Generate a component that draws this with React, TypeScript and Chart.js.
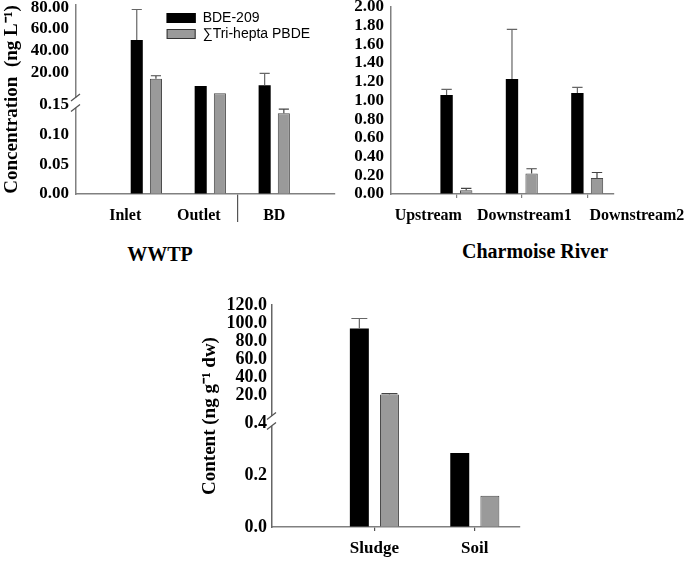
import { useEffect, useRef } from "react";
import { Chart, registerables, LinearScale } from "chart.js";

// ---------------- data ----------------
const seriesNames = ["BDE-209", "\u2211Tri-hepta PBDE"];

const wwtpCategories = ["Inlet", "Outlet", "BD"];
const wwtpBde209 = [50, 7.8, 8.4];
const wwtpBde209Err = [28, 0, 11];
const wwtpTrihepta = [14.5, 1.1, 0.136];
const wwtpTriheptaErr = [2.7, 0, 0.007];
const wwtpTicks = [0, 0.05, 0.1, 0.15, 20, 40, 60, 80];

const riverCategories = ["Upstream", "Downstream1", "Downstream2"];
const riverBde209 = [1.06, 1.23, 1.08];
const riverBde209Err = [0.06, 0.53, 0.06];
const riverTrihepta = [0.04, 0.22, 0.17];
const riverTriheptaErr = [0.02, 0.05, 0.06];
const riverTicks = [0, 0.2, 0.4, 0.6, 0.8, 1.0, 1.2, 1.4, 1.6, 1.8, 2.0];

const solidCategories = ["Sludge", "Soil"];
const solidBde209 = [94, 0.285];
const solidBde209Err = [11, 0];
const solidTrihepta = [20.5, 0.12];
const solidTriheptaErr = [1, 0];
const solidTicks = [0, 0.2, 0.4, 20, 40, 60, 80, 100, 120];

// label placement along the x axes (axis units; bars sit at 1, 2, 3)
const wwtpLabelAt = [0.67, 1.82, 3.0];
const wwtpSeparatorAt = [2.43];
const riverLabelAt = [0.57, 2.04, 3.76];

// ---------------- broken axis scale ----------------
function toDecimal(segs: any, v: number) {
  const n = segs.length;
  for (let k = 0; k < n; k++) {
    const s = segs[k];
    if (v <= s.top || k === n - 1) {
      return s.d0 + ((v - s.v0) / (s.v1 - s.v0)) * (s.d1 - s.d0);
    }
  }
  return 0;
}
function fromDecimal(segs: any, d: number) {
  const n = segs.length;
  for (let k = 0; k < n; k++) {
    const s = segs[k];
    if (d <= s.d1 || k === n - 1) {
      return s.v0 + ((d - s.d0) / (s.d1 - s.d0)) * (s.v1 - s.v0);
    }
  }
  return 0;
}

class BrokenLinearScale extends LinearScale {
  static id = "brokenLinear";
  static defaults = LinearScale.defaults;
  getPixelForValue(value: any) {
    if (value === null || value === undefined || Number.isNaN(value)) return NaN;
    const segs = (this.options as any).segments;
    if (!segs) return super.getPixelForValue(value);
    return this.getPixelForDecimal(toDecimal(segs, value));
  }
  getValueForPixel(pixel: number) {
    const segs = (this.options as any).segments;
    if (!segs) return super.getValueForPixel(pixel);
    return fromDecimal(segs, this.getDecimalForPixel(pixel));
  }
}

Chart.register(...registerables, BrokenLinearScale);

// ---------------- plugins ----------------
const errorBarsPlugin = {
  id: "errorBars",
  afterDatasetsDraw(chart: any) {
    const ctx = chart.ctx;
    chart.data.datasets.forEach((ds: any, i: number) => {
      const errs = ds.errors;
      if (!errs) return;
      const meta = chart.getDatasetMeta(i);
      const yScale = chart.scales[meta.yAxisID];
      ctx.save();
      ctx.strokeStyle = ds.errorColor || "#555";
      ctx.lineWidth = 1.2;
      meta.data.forEach((bar: any, j: number) => {
        const e = errs[j];
        if (!e) return;
        const val = ds.data[j].y;
        const top = yScale.getPixelForValue(val + e);
        const half = bar.width * 0.42;
        ctx.beginPath();
        ctx.moveTo(bar.x, bar.y);
        ctx.lineTo(bar.x, top);
        ctx.moveTo(bar.x - half, top);
        ctx.lineTo(bar.x + half, top);
        ctx.stroke();
      });
      ctx.restore();
    });
  },
};

const axisBreakPlugin = {
  id: "axisBreak",
  afterDraw(chart: any) {
    const y = chart.scales.y;
    const segs = y.options.segments;
    if (!segs || segs.length < 2) return;
    const lowTop = y.getPixelForDecimal(segs[0].d1);
    const upBottom = y.getPixelForDecimal(segs[1].d0);
    const x = chart.chartArea.left;
    const ctx = chart.ctx;
    const a = upBottom + 3;
    const b = lowTop + 3;
    ctx.save();
    ctx.fillStyle = "#fff";
    ctx.fillRect(x - 2, a, 4, b - a);
    ctx.strokeStyle = "#555";
    ctx.lineWidth = 1.3;
    ctx.beginPath();
    [a, b].forEach((yy) => {
      ctx.moveTo(x - 5, yy + 3.5);
      ctx.lineTo(x + 4, yy - 3.5);
    });
    ctx.stroke();
    ctx.restore();
  },
};

const innerLegendPlugin = {
  id: "innerLegend",
  afterDraw(chart: any, _args: any, opts: any) {
    if (!opts || !opts.show) return;
    const ctx = chart.ctx;
    const { left, top, width } = chart.chartArea;
    const x0 = left + width * opts.x;
    let y0 = top + opts.y;
    ctx.save();
    ctx.font = "14px 'Liberation Sans', Arial, sans-serif";
    ctx.textBaseline = "middle";
    ctx.textAlign = "left";
    chart.data.datasets.forEach((ds: any) => {
      ctx.fillStyle = ds.backgroundColor;
      ctx.fillRect(x0, y0, 29, 10);
      ctx.strokeStyle = ds.legendBorder || "#000";
      ctx.lineWidth = 1;
      ctx.strokeRect(x0 + 0.5, y0 + 0.5, 28, 9);
      ctx.fillStyle = "#000";
      ctx.fillText(ds.label, x0 + 36, y0 + 5.5);
      y0 += 16;
    });
    ctx.restore();
  },
};

// ---------------- helpers ----------------
const SERIF = "'Liberation Serif', 'Times New Roman', serif";
const AXIS_COLOR = "#808080";

function makeDatasets(a: number[], aErr: number[], b: number[], bErr: number[]) {
  return [
    {
      label: seriesNames[0],
      data: a.map((v, i) => ({ x: i + 1, y: v })),
      errors: aErr,
      backgroundColor: "#000000",
      borderColor: "#000000",
      borderWidth: 0,
      errorColor: "#666",
      legendBorder: "#000",
      xAxisID: "x",
      yAxisID: "y",
      categoryPercentage: 0.6,
      barPercentage: 0.63,
    },
    {
      label: seriesNames[1],
      data: b.map((v, i) => ({ x: i + 1, y: v })),
      errors: bErr,
      backgroundColor: "#9a9a9a",
      borderColor: "#4a4a4a",
      borderWidth: 1,
      errorColor: "#444",
      legendBorder: "#333",
      xAxisID: "x",
      yAxisID: "y",
      categoryPercentage: 0.6,
      barPercentage: 0.63,
    },
  ];
}

function fixWidth(w: number) {
  return (scale: any) => {
    scale.width = w;
    scale.paddingTop = 0;
    scale.paddingBottom = 0;
  };
}
function fixHeight(h: number) {
  return (scale: any) => {
    scale.height = h;
    scale.paddingLeft = 0;
    scale.paddingRight = 0;
  };
}
function setTicks(values: number[]) {
  return (scale: any) => {
    scale.ticks = values.map((v) => ({ value: v }));
  };
}

function baseOptions(padding: any) {
  return {
    responsive: false,
    animation: false,
    layout: { padding },
    plugins: {
      legend: { display: false },
      tooltip: { enabled: false },
      title: { display: false },
    },
  };
}

function barAxis(min: number, max: number, ticks: number[], height: number, tickLength: number, color: string, extraTicks?: any) {
  return {
    type: "linear",
    axis: "x",
    position: "bottom",
    weight: 1,
    offset: false,
    min,
    max,
    afterBuildTicks: setTicks(ticks),
    afterFit: fixHeight(height),
    ticks: extraTicks || { display: false },
    grid: { display: true, offset: false, drawOnChartArea: false, drawTicks: true, tickLength, color, lineWidth: 1.2 },
    border: { display: true, color: AXIS_COLOR, width: 1.5 },
  };
}

function labelAxis(min: number, max: number, at: number[], names: string[]) {
  return {
    type: "linear",
    axis: "x",
    position: "bottom",
    weight: 2,
    offset: false,
    min,
    max,
    afterBuildTicks: setTicks(at),
    afterFit: fixHeight(32),
    ticks: {
      autoSkip: false,
      maxRotation: 0,
      padding: 0,
      font: { size: 16, weight: "bold" },
      callback: (_v: any, i: number) => names[i],
    },
    grid: { display: false, offset: false },
    border: { display: false },
  };
}

export default function App() {
  const refA = useRef<HTMLCanvasElement>(null);
  const refB = useRef<HTMLCanvasElement>(null);
  const refC = useRef<HTMLCanvasElement>(null);

  useEffect(() => {
    Chart.defaults.font.family = SERIF;
    Chart.defaults.color = "#000";
    const plugins = [errorBarsPlugin, axisBreakPlugin, innerLegendPlugin];

    // ---- WWTP panel ----
    const chartA = new Chart(refA.current as HTMLCanvasElement, {
      type: "bar",
      data: { datasets: makeDatasets(wwtpBde209, wwtpBde209Err, wwtpTrihepta, wwtpTriheptaErr) as any },
      plugins: plugins as any,
      options: {
        ...baseOptions({ top: 5, right: 10, left: 0, bottom: 0 }),
        plugins: {
          legend: { display: false },
          tooltip: { enabled: false },
          innerLegend: { show: true, x: 0.35, y: 8 },
        },
        scales: {
          x: barAxis(-0.1, 3.95, wwtpSeparatorAt, 4, 28, "#555"),
          x2: labelAxis(-0.1, 3.95, wwtpLabelAt, wwtpCategories),
          y: {
            type: "brokenLinear",
            min: 0,
            max: 82,
            segments: [
              { top: 0.15, v0: 0, v1: 0.15, d0: 0, d1: 0.471 },
              { top: Infinity, v0: 0, v1: 80, d0: 0.5265, d1: 0.9878 },
            ],
            afterBuildTicks: setTicks(wwtpTicks),
            afterFit: fixWidth(76),
            ticks: {
              autoSkip: false,
              padding: 7,
              font: { size: 17, weight: "bold" },
              callback: (v: any) => Number(v).toFixed(2),
            },
            grid: { display: true, drawOnChartArea: false, drawTicks: false },
            border: { display: true, color: AXIS_COLOR, width: 1.5 },
            title: {
              display: true,
              text: "Concentration  (ng L\u207B\u00B9)",
              font: { size: 19, weight: "bold" },
              padding: { top: 1, bottom: 0 },
            },
          },
        } as any,
      } as any,
    });

    // ---- River panel ----
    const chartB = new Chart(refB.current as HTMLCanvasElement, {
      type: "bar",
      data: { datasets: makeDatasets(riverBde209, riverBde209Err, riverTrihepta, riverTriheptaErr) as any },
      plugins: plugins as any,
      options: {
        ...baseOptions({ top: 7, right: 71, left: 0, bottom: 0 }),
        scales: {
          x: barAxis(0, 3.41, [1, 2, 3], 4, 4, AXIS_COLOR),
          x2: labelAxis(0, 3.41, riverLabelAt, riverCategories),
          y: {
            type: "linear",
            min: 0,
            max: 2,
            afterBuildTicks: setTicks(riverTicks),
            afterFit: fixWidth(46),
            ticks: {
              autoSkip: false,
              padding: 7,
              font: { size: 17, weight: "bold" },
              callback: (v: any) => Number(v).toFixed(2),
            },
            grid: { display: true, drawOnChartArea: false, drawTicks: false },
            border: { display: true, color: AXIS_COLOR, width: 1.5 },
          },
        } as any,
      } as any,
    });

    // ---- Sludge / soil panel ----
    const chartC = new Chart(refC.current as HTMLCanvasElement, {
      type: "bar",
      data: { datasets: makeDatasets(solidBde209, solidBde209Err, solidTrihepta, solidTriheptaErr) as any },
      plugins: plugins as any,
      options: {
        ...baseOptions({ top: 15, right: 10, left: 0, bottom: 0 }),
        scales: {
          x: barAxis(-0.02, 2.45, [1, 2], 45, 4, "#555", {
            autoSkip: false,
            maxRotation: 0,
            padding: 7,
            font: { size: 17, weight: "bold" },
            callback: (_v: any, i: number) => solidCategories[i],
          }),
          y: {
            type: "brokenLinear",
            min: 0,
            max: 120,
            segments: [
              { top: 0.4, v0: 0, v1: 0.4, d0: 0, d1: 0.4685 },
              { top: Infinity, v0: 0, v1: 120, d0: 0.5135, d1: 1.0 },
            ],
            afterBuildTicks: setTicks(solidTicks),
            afterFit: fixWidth(82),
            ticks: {
              autoSkip: false,
              padding: 5,
              font: { size: 18, weight: "bold" },
              callback: (v: any) => Number(v).toFixed(1),
            },
            grid: { display: true, drawOnChartArea: false, drawTicks: false },
            border: { display: true, color: "#666", width: 1.5 },
            title: {
              display: true,
              text: "Content (ng g\u207B\u00B9 dw)",
              font: { size: 19, weight: "bold" },
              padding: { top: 9, bottom: 0 },
            },
          },
        } as any,
      } as any,
    });

    return () => {
      chartA.destroy();
      chartB.destroy();
      chartC.destroy();
    };
  }, []);

  const titleStyle: any = {
    position: "absolute",
    width: 200,
    textAlign: "center",
    fontFamily: SERIF,
    fontWeight: "bold",
    fontSize: 20,
    lineHeight: "20px",
    color: "#000",
    whiteSpace: "nowrap",
  };

  return (
    <div style={{ position: "absolute", left: 0, top: 0, width: 685, height: 572, background: "#fff", overflow: "hidden" }}>
      <canvas ref={refA} width={345} height={230} style={{ position: "absolute", left: 0, top: 0 }} />
      <canvas ref={refB} width={340} height={230} style={{ position: "absolute", left: 345, top: 0 }} />
      <canvas ref={refC} width={340} height={282} style={{ position: "absolute", left: 190, top: 290 }} />
      <div style={{ ...titleStyle, left: 60, top: 244 }}>WWTP</div>
      <div style={{ ...titleStyle, left: 435, top: 241 }}>Charmoise River</div>
    </div>
  );
}
